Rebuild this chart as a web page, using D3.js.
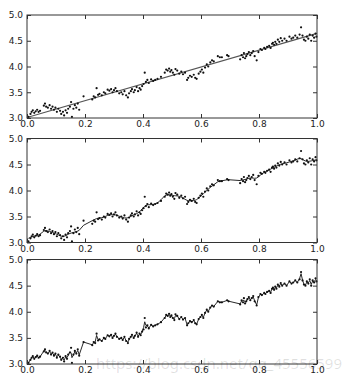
<!DOCTYPE html>
<html>
<head>
<meta charset="utf-8">
<script src="https://cdn.jsdelivr.net/npm/d3@7"></script>
<style>
  body { margin: 0; background: #fff; }
  svg { display: block; }
  .tick text { font-family: "DejaVu Sans", sans-serif; font-size: 9px; fill: #222; }
</style>
</head>
<body>
<div id="chart"></div>
<script>
const xs = [
  0.005, 0.012, 0.016, 0.020, 0.025, 0.030, 0.035, 0.040, 0.045,
  0.058, 0.062, 0.066, 0.072, 0.078, 0.083, 0.088, 0.093, 0.098,
  0.103, 0.108, 0.114, 0.118, 0.124, 0.128, 0.133, 0.138, 0.142, 0.148, 0.152, 0.155,
  0.160, 0.165, 0.170, 0.175, 0.180, 0.195,
  0.225, 0.230, 0.235, 0.240, 0.245, 0.250,
  0.258, 0.265, 0.270, 0.278, 0.284, 0.290, 0.295, 0.300,
  0.305, 0.310, 0.318, 0.325, 0.330, 0.336, 0.342, 0.348, 0.352,
  0.358, 0.362, 0.368, 0.372, 0.378, 0.383, 0.388, 0.392, 0.397,
  0.402, 0.406, 0.410, 0.415, 0.420, 0.428, 0.435, 0.442, 0.450,
  0.462, 0.475, 0.480, 0.485, 0.490, 0.494, 0.498,
  0.503, 0.508, 0.512, 0.518, 0.525, 0.532, 0.538, 0.545,
  0.552, 0.556, 0.562, 0.568, 0.575, 0.580, 0.585, 0.592, 0.598,
  0.603, 0.608, 0.614, 0.620, 0.625, 0.632, 0.638, 0.644,
  0.658, 0.665, 0.672, 0.690, 0.695,
  0.735, 0.740, 0.745, 0.748, 0.752, 0.756, 0.760,
  0.765, 0.770, 0.775, 0.780, 0.785, 0.792, 0.798,
  0.805, 0.810, 0.818, 0.822, 0.828, 0.835, 0.840, 0.845, 0.848,
  0.852, 0.856, 0.860, 0.865, 0.870, 0.875, 0.880, 0.888, 0.895,
  0.905, 0.912, 0.918, 0.925, 0.932, 0.940, 0.945, 0.950,
  0.955, 0.960, 0.965, 0.970, 0.975, 0.980, 0.985, 0.990, 0.995, 0.998
];
const ys = [
  3.02, 3.08, 3.12, 3.15, 3.10, 3.13, 3.16, 3.12, 3.14,
  3.24, 3.28, 3.22, 3.20, 3.25, 3.18, 3.22, 3.16, 3.20,
  3.12, 3.18, 3.14, 3.08, 3.12, 3.05, 3.15, 3.10, 3.18, 3.22, 3.31, 3.02,
  3.18, 3.25, 3.20, 3.28, 3.16, 3.42,
  3.36, 3.42, 3.40, 3.58, 3.45, 3.47,
  3.44, 3.50, 3.48, 3.55, 3.53, 3.56, 3.50, 3.54,
  3.58, 3.52, 3.48, 3.50, 3.46, 3.52, 3.44, 3.40, 3.48,
  3.52, 3.56, 3.50, 3.54, 3.60, 3.52, 3.58, 3.55, 3.62,
  3.66, 3.88, 3.70, 3.74, 3.68, 3.75, 3.72, 3.74, 3.76,
  3.80, 3.88, 3.94, 3.92, 3.96, 3.90, 3.93,
  3.88, 3.84, 3.95, 3.92, 3.86, 3.90, 3.85, 3.88,
  3.74, 3.78, 3.82, 3.80, 3.84, 3.78, 3.76, 3.86, 3.90,
  3.94, 3.88, 3.98, 4.04, 4.00, 4.08, 4.12, 4.10,
  4.20, 4.18, 4.18, 4.22, 4.20,
  4.14, 4.22, 4.18, 4.26, 4.16, 4.20, 4.24,
  4.28, 4.22, 4.26, 4.30, 4.20, 4.12, 4.28,
  4.34, 4.32, 4.36, 4.34, 4.38, 4.40, 4.36, 4.44, 4.46,
  4.42, 4.48, 4.44, 4.52, 4.48, 4.55, 4.50, 4.54, 4.50,
  4.58, 4.54, 4.56, 4.60, 4.56, 4.62, 4.76, 4.60,
  4.52, 4.50, 4.58, 4.54, 4.62, 4.50, 4.60, 4.56, 4.64, 4.58
];
const xTicks = [0.0, 0.2, 0.4, 0.6, 0.8, 1.0];
const yTicks = [3.0, 3.5, 4.0, 4.5, 5.0];
const watermark = "https://blog.csdn.net/qq_45556599";

const points = xs.map((x, i) => ({x, y: ys[i]}));

// least-squares straight line
function linearFit(pts) {
  const mx = d3.mean(pts, d => d.x), my = d3.mean(pts, d => d.y);
  const b = d3.sum(pts, d => (d.x - mx) * (d.y - my)) / d3.sum(pts, d => (d.x - mx) ** 2);
  const a = my - b * mx;
  return [{x: 0, y: a}, {x: 1, y: a + b}];
}

// local kernel average
function smoothFit(pts, bw) {
  return pts.map(p => {
    let sw = 0, sy = 0;
    for (let q of pts) {
      let w = Math.exp(-0.5 * ((q.x - p.x) / bw) ** 2);
      sw += w; sy += w * q.y;
    }
    return {x: p.x, y: sy / sw};
  });
}

const W = 352, H = 382;
const left = 27, right = 317;
const panels = [
  {top: 15, height: 103, line: linearFit(points), color: "#555", width: 1.1},
  {top: 138.5, height: 104, line: smoothFit(points, 0.011), color: "#111", width: 0.9},
  {top: 259.5, height: 104.5, line: smoothFit(points, 0.0025), color: "#111", width: 0.9}
];

const svg = d3.select("#chart").append("svg")
  .attr("width", W).attr("height", H);

const x = d3.scaleLinear().domain([0, 1]).range([left, right]);

panels.forEach(p => {
  const y = d3.scaleLinear().domain([3, 5]).range([p.top + p.height, p.top]);
  const g = svg.append("g");

  // fitted line
  g.append("path")
    .datum(p.line)
    .attr("fill", "none")
    .attr("stroke", p.color)
    .attr("stroke-width", p.width)
    .attr("d", d3.line().x(d => x(d.x)).y(d => y(d.y)));

  // samples
  g.append("g").selectAll("circle")
    .data(points)
    .enter().append("circle")
    .attr("cx", d => x(d.x))
    .attr("cy", d => y(d.y))
    .attr("r", 1.1)
    .attr("fill", "#111");

  // axes: ticks point inward on all four sides
  const fmt = d3.format(".1f");
  g.append("g").attr("transform", `translate(0,${p.top + p.height})`)
    .call(d3.axisBottom(x).tickValues(xTicks).tickFormat(fmt).tickSizeInner(-4).tickSizeOuter(0).tickPadding(3));
  g.append("g").attr("transform", `translate(0,${p.top})`)
    .call(d3.axisTop(x).tickValues(xTicks).tickFormat("").tickSizeInner(-4).tickSizeOuter(0));
  g.append("g").attr("transform", `translate(${left},0)`)
    .call(d3.axisLeft(y).tickValues(yTicks).tickFormat(fmt).tickSizeInner(-4).tickSizeOuter(0).tickPadding(4));
  g.append("g").attr("transform", `translate(${right},0)`)
    .call(d3.axisRight(y).tickValues(yTicks).tickFormat("").tickSizeInner(-4).tickSizeOuter(0));
  g.selectAll(".domain").remove();
  g.selectAll(".tick line").attr("stroke", "#333");

  g.append("rect")
    .attr("x", left).attr("y", p.top)
    .attr("width", right - left).attr("height", p.height)
    .attr("fill", "none").attr("stroke", "#333").attr("stroke-width", 1);
});

svg.append("text")
  .attr("x", 96).attr("y", 369)
  .attr("font-family", "Noto Sans, sans-serif")
  .attr("font-size", 14)
  .attr("textLength", 246)
  .attr("lengthAdjust", "spacingAndGlyphs")
  .attr("fill", "#000")
  .attr("fill-opacity", 0.12)
  .text(watermark);
</script>
</body>
</html>
